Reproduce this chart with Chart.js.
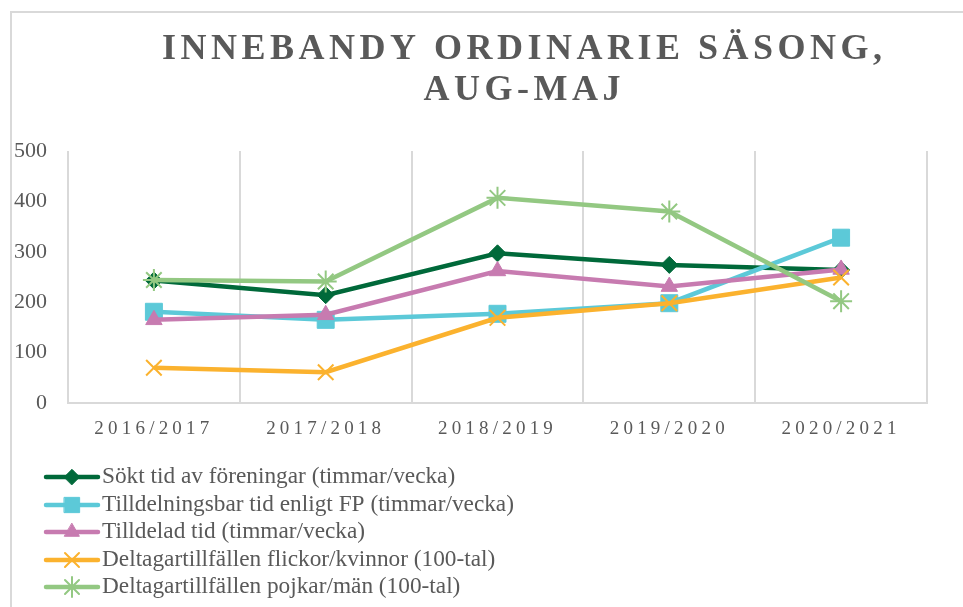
<!DOCTYPE html>
<html>
<head>
<meta charset="utf-8">
<script src="https://cdn.jsdelivr.net/npm/chart.js@4/dist/chart.umd.min.js"></script>
<style>
  html, body { margin: 0; padding: 0; background: #ffffff; }
  #wrap { width: 963px; height: 607px; position: relative; }
</style>
</head>
<body>
<div id="wrap"><canvas id="c" width="963" height="607"></canvas></div>
<script>
const titleLines = ['INNEBANDY ORDINARIE SÄSONG,', 'AUG-MAJ'];
const categories = ['2016/2017', '2017/2018', '2018/2019', '2019/2020', '2020/2021'];
const seriesNames = [
  'Sökt tid av föreningar (timmar/vecka)',
  'Tilldelningsbar tid enligt FP (timmar/vecka)',
  'Tilldelad tid (timmar/vecka)',
  'Deltagartillfällen flickor/kvinnor (100-tal)',
  'Deltagartillfällen pojkar/män (100-tal)'
];
const soktTid = [243, 214, 297, 274, 264];
const tilldelningsbarTid = [181, 165, 177, 198, 328];
const tilldeladTid = [165, 175, 262, 231, 265];
const deltagareFlickor = [70, 61, 169, 198, 249];
const deltagarePojkar = [244, 241, 407, 380, 202];
const yTicks = [0, 100, 200, 300, 400, 500];

const TEXT = '#595959';
const GRID = '#d9d9d9';
const SERIF = '"Liberation Serif", "Times New Roman", serif';

const styles = [
  { color: '#00693A', pointStyle: 'rectRot', radius: 8.5, bw: 1 },
  { color: '#5CC9D8', pointStyle: 'rect', radius: 12, bw: 1 },
  { color: '#C77BB0', pointStyle: 'triangle', radius: 9.5, bw: 1 },
  { color: '#FBB22E', pointStyle: 'crossRot', radius: 11, bw: 2 },
  { color: '#93C882', pointStyle: 'star', radius: 11, bw: 2 }
];
const seriesData = [soktTid, tilldelningsbarTid, tilldeladTid, deltagareFlickor, deltagarePojkar];

const datasets = seriesData.map((d, i) => ({
  label: seriesNames[i],
  data: d,
  borderColor: styles[i].color,
  backgroundColor: styles[i].color,
  borderWidth: 4.5,
  pointStyle: styles[i].pointStyle,
  pointRadius: styles[i].radius,
  pointBorderWidth: styles[i].bw,
  pointBackgroundColor: styles[i].color,
  pointBorderColor: styles[i].color,
  tension: 0,
  order: seriesData.length - i
}));

const framePlugin = {
  id: 'frame',
  beforeDraw(chart) {
    const ctx = chart.ctx;
    ctx.save();
    ctx.strokeStyle = GRID;
    ctx.lineWidth = 2;
    ctx.beginPath();
    ctx.moveTo(11, 607);
    ctx.lineTo(11, 12);
    ctx.lineTo(963, 12);
    ctx.stroke();
    ctx.restore();
  }
};

const titlePlugin = {
  id: 'spacedTitle',
  afterDraw(chart) {
    const ctx = chart.ctx;
    const sp = 4.5;
    ctx.save();
    ctx.font = 'bold 36px ' + SERIF;
    ctx.fillStyle = TEXT;
    ctx.textAlign = 'center';
    ctx.textBaseline = 'alphabetic';
    ctx.letterSpacing = sp + 'px';
    ctx.fillText(titleLines[0], 522 + sp / 2, 59);
    ctx.fillText(titleLines[1], 522 + sp / 2, 100);
    ctx.restore();
  }
};

const legendPlugin = {
  id: 'vertLegend',
  afterDraw(chart) {
    const ctx = chart.ctx;
    const rows = [477, 505, 532, 560, 587];
    ctx.save();
    chart.data.datasets.forEach((ds, i) => {
      const y = rows[i];
      ctx.strokeStyle = ds.borderColor;
      ctx.lineWidth = 4.5;
      ctx.lineCap = 'round';
      ctx.beginPath();
      ctx.moveTo(46, y);
      ctx.lineTo(98, y);
      ctx.stroke();
      ctx.fillStyle = ds.pointBackgroundColor;
      ctx.strokeStyle = ds.pointBorderColor;
      ctx.lineWidth = ds.pointBorderWidth;
      Chart.helpers.drawPoint(ctx, {
        pointStyle: ds.pointStyle,
        radius: ds.pointRadius * 0.9,
        rotation: 0,
        borderWidth: ds.pointBorderWidth
      }, 72, y);
      ctx.fillStyle = TEXT;
      ctx.font = '23.3px ' + SERIF;
      ctx.textAlign = 'left';
      ctx.textBaseline = 'middle';
      ctx.fillText(ds.label, 102, y);
    });
    ctx.restore();
  }
};

const spacingPatch = {
  id: 'xSpacing',
  afterLayout(chart) {
    const xs = chart.scales.x;
    if (xs && !xs._spaced) {
      const orig = xs.drawLabels;
      xs.drawLabels = function (area) {
        const ctx = this.ctx;
        ctx.save();
        ctx.letterSpacing = '4.2px';
        orig.call(this, area);
        ctx.restore();
      };
      xs._spaced = true;
    }
  }
};

new Chart(document.getElementById('c'), {
  type: 'line',
  data: { labels: categories, datasets },
  plugins: [framePlugin, titlePlugin, legendPlugin, spacingPatch],
  options: {
    responsive: false,
    animation: false,
    layout: { padding: { left: 0, right: 36, top: 151, bottom: 154 } },
    plugins: {
      legend: { display: false },
      title: { display: false },
      tooltip: { enabled: false }
    },
    scales: {
      x: {
        offset: true,
        afterFit(s) { s.height = 50; },
        grid: { display: true, offset: true, color: GRID, lineWidth: 2, drawTicks: false },
        border: { display: true, color: GRID, width: 2 },
        ticks: { color: TEXT, font: { family: SERIF, size: 19 }, padding: 15, maxRotation: 0, autoSkip: false }
      },
      y: {
        min: 0,
        max: 500,
        afterFit(s) { s.width = 68; },
        afterBuildTicks(s) { s.ticks = yTicks.map(v => ({ value: v })); },
        grid: { display: false, drawTicks: false },
        border: { display: false },
        ticks: { color: TEXT, font: { family: SERIF, size: 22 }, padding: 21 }
      }
    }
  }
});
</script>
</body>
</html>
